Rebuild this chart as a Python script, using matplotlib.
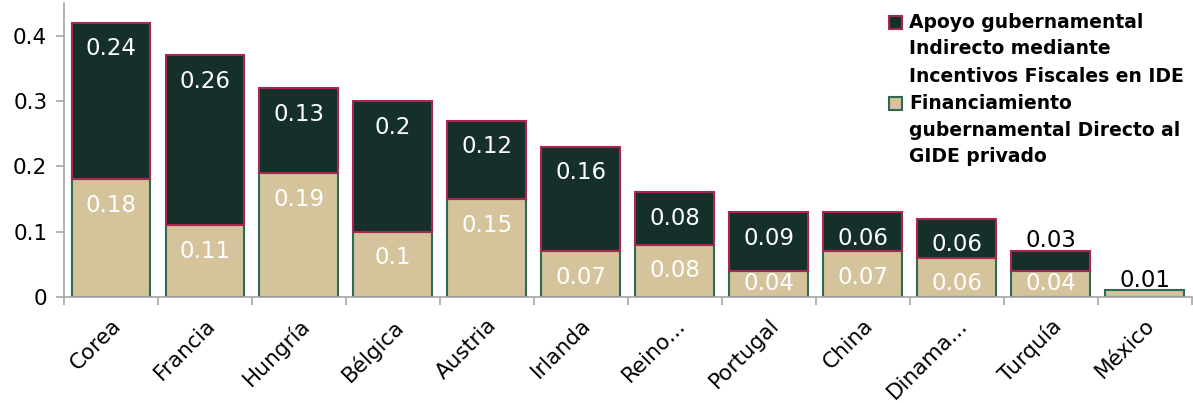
import matplotlib
matplotlib.use("Agg")
import matplotlib.pyplot as plt
from matplotlib.patches import Rectangle
import numpy as np

categories = ["Corea", "Francia", "Hungría", "Bélgica", "Austria", "Irlanda",
              "Reino...", "Portugal", "China", "Dinama...", "Turquía", "México"]
directo = [0.18, 0.11, 0.19, 0.10, 0.15, 0.07, 0.08, 0.04, 0.07, 0.06, 0.04, 0.01]
indirecto = [0.24, 0.26, 0.13, 0.20, 0.12, 0.16, 0.08, 0.09, 0.06, 0.06, 0.03, 0.0]
directo_labels = ["0.18", "0.11", "0.19", "0.1", "0.15", "0.07", "0.08", "0.04", "0.07", "0.06", "0.04", "0.01"]
indirecto_labels = ["0.24", "0.26", "0.13", "0.2", "0.12", "0.16", "0.08", "0.09", "0.06", "0.06", "0.03", ""]
yticks = [0, 0.1, 0.2, 0.3, 0.4]
ytick_labels = ["0", "0.1", "0.2", "0.3", "0.4"]
legend_labels = ["Apoyo gubernamental\nIndirecto mediante\nIncentivos Fiscales en IDE",
                 "Financiamiento\ngubernamental Directo al\nGIDE privado"]

plt.rcParams['font.family'] = ['DejaVu Sans']

DARK = "#15302b"
TAN = "#d5c39c"
EDGE_TOP = "#a8264f"
EDGE_BOT = "#2d6b55"
GRAY = "#a6a6a6"

W, H = 1193, 403
fig = plt.figure(figsize=(W/100, H/100), dpi=100)
ax = fig.add_axes([64/W, 1 - 297/H, 1 - 64/W - 0.001, 294/H])

x = np.arange(len(categories))
w = 0.84
ax.bar(x, directo, width=w, color=TAN, edgecolor=EDGE_BOT, linewidth=1.5, zorder=2)
top_mask = np.array(indirecto) > 0
ax.bar(x[top_mask], np.array(indirecto)[top_mask], width=w,
       bottom=np.array(directo)[top_mask], color=DARK, edgecolor=EDGE_TOP,
       linewidth=1.5, zorder=3)

fs = 16.5
for i in range(len(categories)):
    d = directo[i]
    t = indirecto[i]
    if d >= 0.03:
        y = max(d - 0.04, 0.02)
        ax.text(x[i], y, directo_labels[i], ha='center', va='center', color='white',
                fontsize=fs, zorder=5)
    else:
        ax.text(x[i], d + 0.005, directo_labels[i], ha='center', va='baseline', color='black',
                fontsize=fs, zorder=5)
    if t <= 0:
        continue
    top = d + t
    if t >= 0.04:
        y = max(top - 0.04, d + 0.02)
        ax.text(x[i], y, indirecto_labels[i], ha='center', va='center', color='white',
                fontsize=fs, zorder=5)
    else:
        ax.text(x[i], top + 0.007, indirecto_labels[i], ha='center', va='baseline', color='black',
                fontsize=fs, zorder=5)

ax.set_xlim(-0.5, len(categories) - 0.5)
ax.set_ylim(0, 0.45)
ax.set_yticks(yticks)
ax.set_yticklabels(ytick_labels, fontsize=15.5)
ax.set_xticks(x)
ax.set_xticklabels(categories, rotation=45, ha='right', rotation_mode='anchor', fontsize=15.5)
ax.set_xticks(np.arange(-0.5, len(categories), 1.0), minor=True)
ax.tick_params(axis='x', which='major', length=0, pad=13)
ax.tick_params(axis='x', which='minor', length=6, color=GRAY, width=1.2)
ax.tick_params(axis='y', length=6, color=GRAY, width=1.2, pad=6)
for s in ['top', 'right']:
    ax.spines[s].set_visible(False)
for s in ['left', 'bottom']:
    ax.spines[s].set_color(GRAY)
    ax.spines[s].set_linewidth(1.2)

# manual legend
leg_colors = [(DARK, EDGE_TOP), (TAN, EDGE_BOT)]
line_h = 27
y0 = 22
k = 0
for lab, (fc, ec) in zip(legend_labels, leg_colors):
    lines = lab.split("\n")
    yc = y0 + k * line_h
    sq = 13
    fig.patches.append(Rectangle((889/W, 1 - (yc + sq/2)/H), sq/W, sq/H,
                                 transform=fig.transFigure, facecolor=fc, edgecolor=ec,
                                 linewidth=1.5, figure=fig))
    for ln in lines:
        fig.text(909/W, 1 - (y0 + k * line_h)/H, ln, ha='left', va='center',
                 fontsize=13.5, fontweight='bold', color='black')
        k += 1

fig.savefig("out.png", dpi=100)
